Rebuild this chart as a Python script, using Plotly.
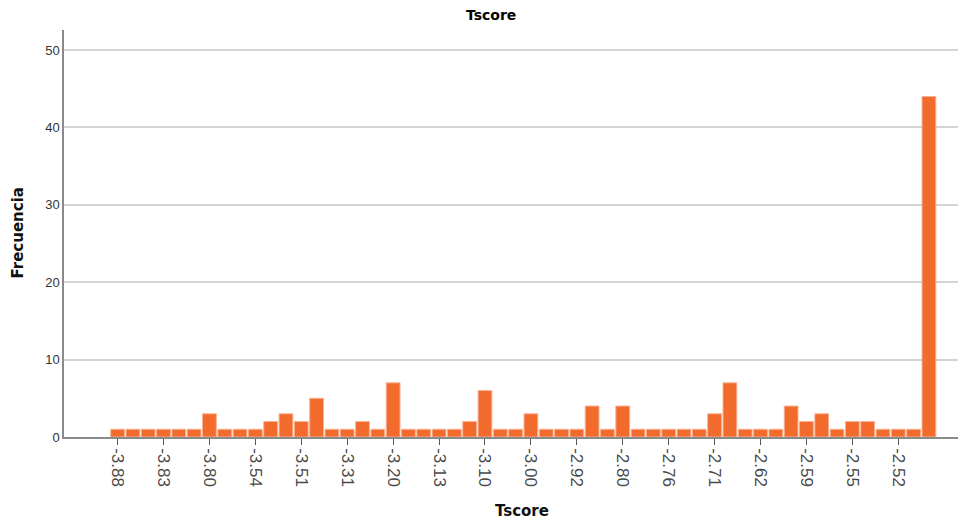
import plotly.graph_objects as go

# Frequency of each Tscore value (54 distinct categories, the last one unlabeled)
counts = [1, 1, 1, 1, 1, 1, 3, 1, 1, 1,
          2, 3, 2, 5, 1, 1, 2, 1, 7, 1,
          1, 1, 1, 2, 6, 1, 1, 3, 1, 1,
          1, 4, 1, 4, 1, 1, 1, 1, 1, 3,
          7, 1, 1, 1, 4, 2, 3, 1, 2, 2,
          1, 1, 1, 44]

# Labels shown on the category axis (every third category)
tick_labels = ["-3.88", "-3.83", "-3.80", "-3.54", "-3.51", "-3.31",
               "-3.20", "-3.13", "-3.10", "-3.00", "-2.92", "-2.80",
               "-2.76", "-2.71", "-2.62", "-2.59", "-2.55", "-2.52"]
tick_step = 3

positions = list(range(len(counts)))
tick_positions = positions[::tick_step][:len(tick_labels)]

fig = go.Figure(
    go.Bar(
        x=positions,
        y=counts,
        marker=dict(color="#F26A2C", line=dict(color="#F8B090", width=1)),
        hoverinfo="y",
    )
)

fig.update_layout(
    width=963,
    height=522,
    margin=dict(l=64, r=5, t=30, b=85),
    paper_bgcolor="white",
    plot_bgcolor="white",
    bargap=0.1,
    showlegend=False,
    font=dict(family="Liberation Sans, Arial, sans-serif", color="#333333"),
    annotations=[
        dict(text="<b>Tscore</b>", xref="paper", yref="paper",
             x=0.478, xanchor="center", y=1.0, yanchor="middle", yshift=15,
             showarrow=False,
             font=dict(size=14, color="#000000", family="DejaVu Sans, sans-serif")),
        dict(text="<b>Tscore</b>", xref="paper", yref="paper",
             x=0.512, xanchor="center", y=0, yanchor="middle", yshift=-74,
             showarrow=False,
             font=dict(size=15, color="#111111", family="DejaVu Sans, sans-serif")),
        dict(text="<b>Frecuencia</b>", xref="paper", yref="paper",
             x=0, xanchor="center", xshift=-47, y=0.5, yanchor="middle",
             textangle=-90, showarrow=False,
             font=dict(size=15, color="#111111", family="DejaVu Sans, sans-serif")),
    ],
)

fig.update_xaxes(
    range=[-3.5, 54.9],
    tickmode="array",
    tickvals=tick_positions,
    ticktext=tick_labels,
    tickangle=90,
    tickfont=dict(size=17, color="#4a4a4a"),
    ticks="outside",
    ticklen=6,
    tickcolor="#555555",
    showgrid=False,
    showline=True,
    linecolor="#8a8a8a",
    linewidth=1.5,
    zeroline=False,
)

fig.update_yaxes(
    range=[0, 52.6],
    tickmode="array",
    tickvals=[0, 10, 20, 30, 40, 50],
    tickfont=dict(size=13, color="#333333"),
    ticks="",
    showgrid=True,
    gridcolor="#d4d4d4",
    gridwidth=1.5,
    showline=True,
    linecolor="#8a8a8a",
    linewidth=1.5,
    zeroline=False,
)

fig.write_html("out.html")
